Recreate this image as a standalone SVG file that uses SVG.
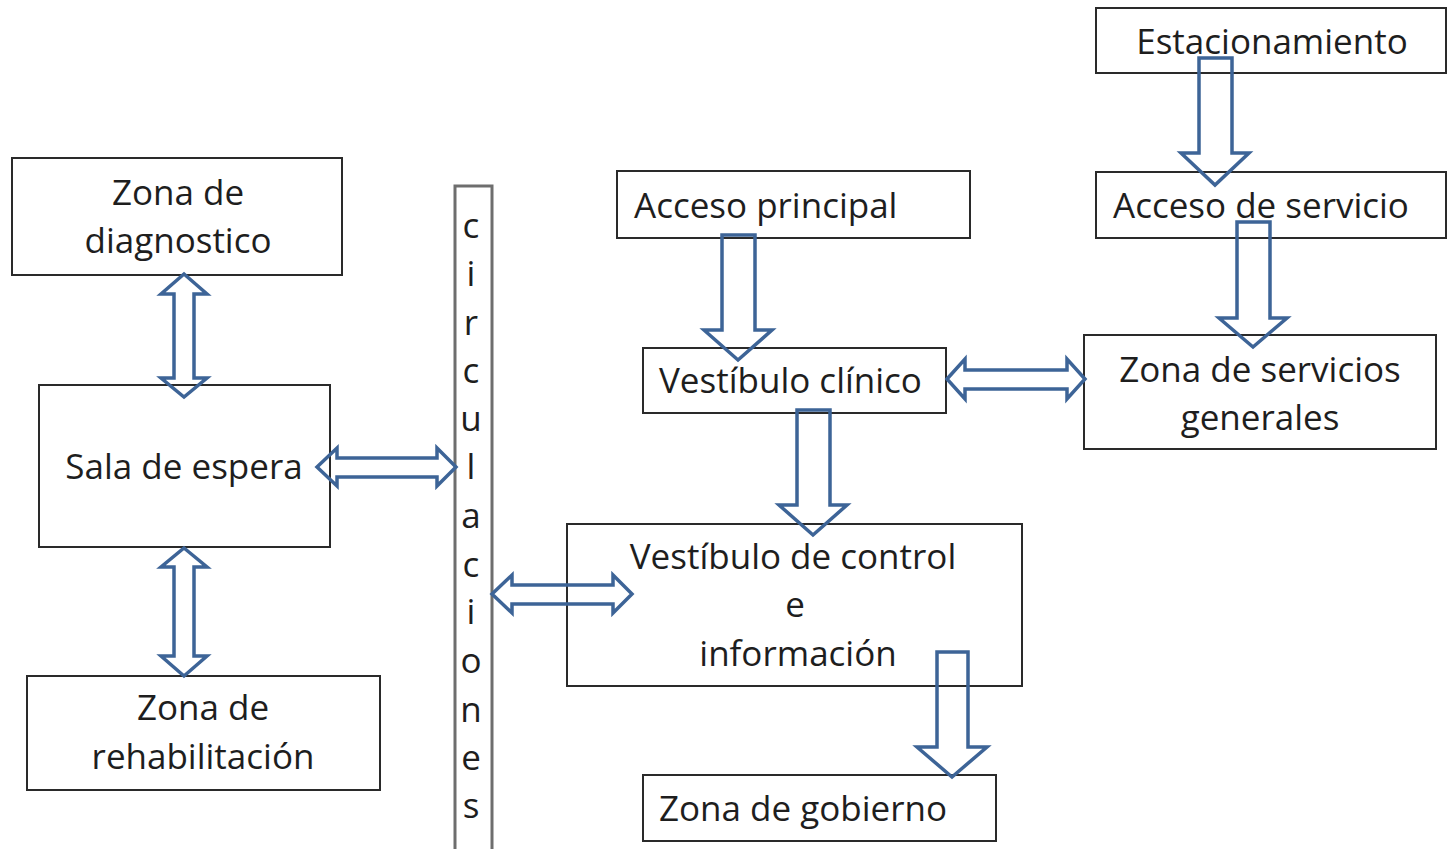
<svg xmlns="http://www.w3.org/2000/svg" width="1447" height="849" viewBox="0 0 1447 849">
  <style>
    .box { fill: #ffffff; stroke: #2a2a2a; stroke-width: 2; }
    .bar { fill: #ffffff; stroke: #6e6e6e; stroke-width: 3; }
    .lbl { font-family: "Open Sans", "Liberation Sans", sans-serif; font-size: 35px; fill: #1e1e1e; }
    .mid { text-anchor: middle; }
    .flow { fill: none; stroke: #3d6497; stroke-width: 3.5; stroke-linejoin: miter; }
  </style>

  <rect width="1447" height="849" fill="#ffffff"/>

  <g id="zona-diagnostico">
    <rect class="box" x="12" y="158" width="330" height="117"/>
    <text class="lbl mid" x="178" y="205">Zona de</text>
    <text class="lbl mid" x="178" y="253">diagnostico</text>
  </g>

  <g id="sala-espera">
    <rect class="box" x="39" y="385" width="291" height="162"/>
    <text class="lbl mid" x="184" y="479">Sala de espera</text>
  </g>

  <g id="zona-rehabilitacion">
    <rect class="box" x="27" y="676" width="353" height="114"/>
    <text class="lbl mid" x="203" y="720">Zona de</text>
    <text class="lbl mid" x="203" y="769">rehabilitación</text>
  </g>

  <g id="circulaciones">
    <rect class="bar" x="455" y="186" width="37" height="670"/>
    <g class="lbl mid">
      <text x="471" y="238">c</text>
      <text x="471" y="286">i</text>
      <text x="471" y="335">r</text>
      <text x="471" y="383">c</text>
      <text x="471" y="431">u</text>
      <text x="471" y="479">l</text>
      <text x="471" y="528">a</text>
      <text x="471" y="577">c</text>
      <text x="471" y="624">i</text>
      <text x="471" y="673">o</text>
      <text x="471" y="722">n</text>
      <text x="471" y="770">e</text>
      <text x="471" y="818">s</text>
    </g>
  </g>

  <g id="acceso-principal">
    <rect class="box" x="617" y="171" width="353" height="67"/>
    <text class="lbl" x="634" y="218">Acceso principal</text>
  </g>

  <g id="vestibulo-clinico">
    <rect class="box" x="643" y="348" width="303" height="65"/>
    <text class="lbl" x="659" y="393">Vestíbulo clínico</text>
  </g>

  <g id="estacionamiento">
    <rect class="box" x="1096" y="8" width="350" height="65"/>
    <text class="lbl mid" x="1272" y="54">Estacionamiento</text>
  </g>

  <g id="acceso-servicio">
    <rect class="box" x="1096" y="172" width="350" height="66"/>
    <text class="lbl" x="1113" y="218">Acceso de servicio</text>
  </g>

  <g id="zona-servicios-generales">
    <rect class="box" x="1084" y="335" width="352" height="114"/>
    <text class="lbl mid" x="1260" y="382">Zona de servicios</text>
    <text class="lbl mid" x="1260" y="430">generales</text>
  </g>

  <g id="vestibulo-control">
    <rect class="box" x="567" y="524" width="455" height="162"/>
    <text class="lbl mid" x="793" y="569">Vestíbulo de control</text>
    <text class="lbl mid" x="795" y="617">e</text>
    <text class="lbl mid" x="798" y="666">información</text>
  </g>

  <g id="zona-gobierno">
    <rect class="box" x="643" y="775" width="353" height="66"/>
    <text class="lbl" x="659" y="821">Zona de gobierno</text>
  </g>

  <g id="connectors">
    <!-- vertical two-way: diagnostico / sala -->
    <path class="flow" d="M184 274 L207 294 L194 294 L194 378 L207 378 L184 397 L161 378 L174 378 L174 294 L161 294 Z"/>
    <!-- vertical two-way: sala / rehabilitacion -->
    <path class="flow" d="M184 548 L207 567 L194 567 L194 656 L207 656 L184 676 L161 656 L174 656 L174 567 L161 567 Z"/>
    <!-- horizontal two-way: sala / circulaciones -->
    <path class="flow" d="M317 467 L337 448 L337 458 L437 458 L437 448 L456 467 L437 486 L437 477 L337 477 L337 486 Z"/>
    <!-- horizontal two-way: circulaciones / vestibulo de control -->
    <path class="flow" d="M492 594 L512 575 L512 585 L613 585 L613 575 L632 594 L613 613 L613 604 L512 604 L512 613 Z"/>
    <!-- horizontal two-way: vestibulo clinico / servicios generales -->
    <path class="flow" d="M947 379 L965 359 L965 370 L1067 370 L1067 359 L1085 379 L1067 399 L1067 389 L965 389 L965 399 Z"/>
    <!-- down: acceso principal -> vestibulo clinico -->
    <path class="flow" d="M722 235 L755 235 L755 330 L772 330 L738 360 L704 330 L722 330 Z"/>
    <!-- down: estacionamiento -> acceso de servicio -->
    <path class="flow" d="M1199 58 L1232 58 L1232 153 L1249 153 L1215 185 L1181 153 L1199 153 Z"/>
    <!-- down: acceso de servicio -> servicios generales -->
    <path class="flow" d="M1237 222 L1270 222 L1270 318 L1287 318 L1253 347 L1219 318 L1237 318 Z"/>
    <!-- down: vestibulo clinico -> vestibulo de control -->
    <path class="flow" d="M797 410 L830 410 L830 505 L847 505 L813 535 L779 505 L797 505 Z"/>
    <!-- down: vestibulo de control -> zona de gobierno -->
    <path class="flow" d="M937 652 L968 652 L968 747 L987 747 L952 777 L917 747 L937 747 Z"/>
  </g>
</svg>
